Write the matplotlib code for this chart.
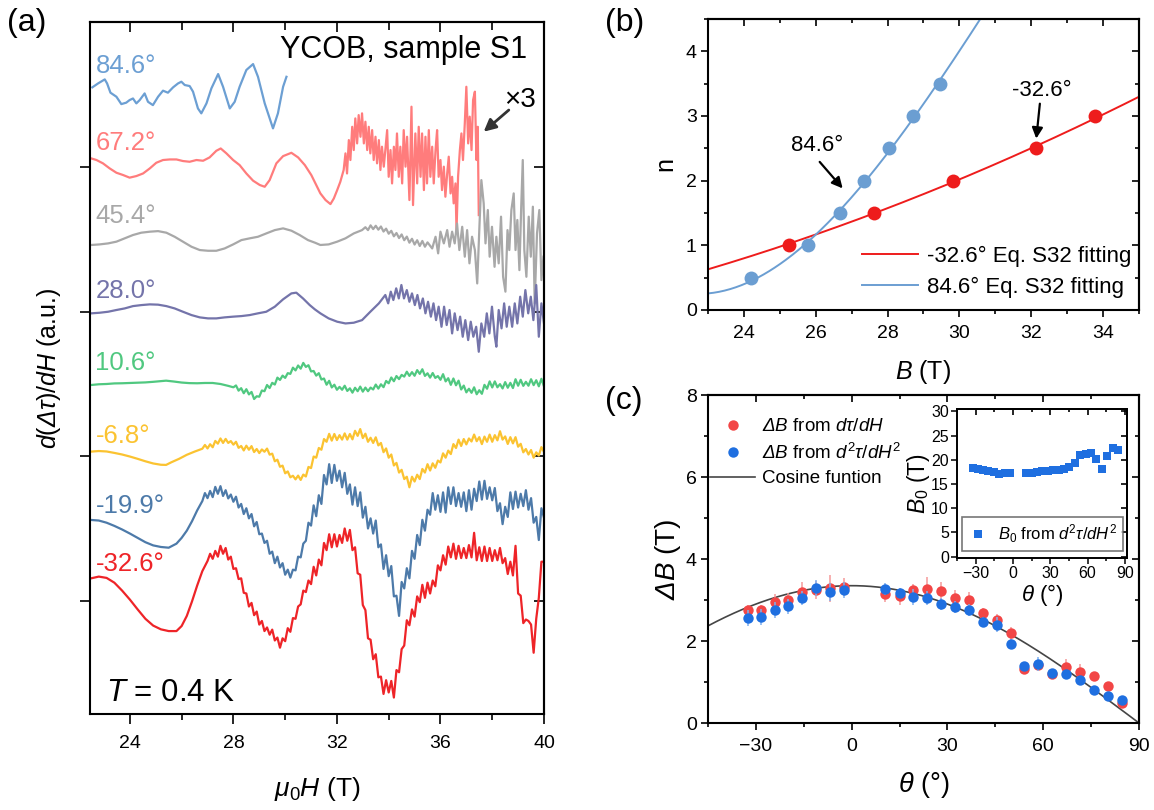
import numpy as np
import matplotlib
matplotlib.use('Agg')
import matplotlib.pyplot as plt
from matplotlib.ticker import MultipleLocator, FixedLocator, NullFormatter
from matplotlib.lines import Line2D

plt.rcParams['font.family'] = 'Liberation Sans'
plt.rcParams['mathtext.fontset'] = 'custom'
plt.rcParams['mathtext.rm'] = 'Liberation Sans'
plt.rcParams['mathtext.it'] = 'Liberation Sans:italic'
plt.rcParams['mathtext.bf'] = 'Liberation Sans:bold'
# sf slot used for the slanted capital Delta
plt.rcParams['mathtext.sf'] = 'Liberation Sans:italic'

# ---------------- (a) d(dtau)/dH traces, offset for clarity ----------------
# each trace: a coarse low-field part plus a 0.1 T sampled noisy part
f_846 = [22.55, 22.77, 23.03, 23.12, 23.25, 23.48, 23.67, 23.86, 23.99, 24.12, 24.25, 24.38, 24.57, 24.70,
         24.89, 25.09, 25.28, 25.47, 25.67, 25.86, 25.99, 26.12, 26.31, 26.44, 26.63, 26.76, 26.96, 27.15,
         27.41, 27.60, 27.86, 28.05, 28.24, 28.50, 28.76, 28.95, 29.21, 29.53, 29.72, 29.92, 30.05]
v_846 = [45.53, 45.80, 46.08, 45.80, 45.16, 44.88, 44.37, 44.47, 44.65, 44.76, 44.42, 44.65, 45.11, 44.53,
         44.30, 44.88, 45.30, 45.16, 45.53, 45.80, 45.92, 45.69, 45.62, 45.23, 44.07, 43.73, 44.42, 45.46,
         46.45, 45.57, 44.07, 44.53, 45.57, 46.73, 47.14, 46.26, 44.42, 42.69, 43.73, 45.57, 46.26]

f_672 = [22.51, 22.71, 22.96, 23.22, 23.48, 23.74, 23.99, 24.25, 24.51, 24.77, 25.02, 25.28, 25.54, 25.80,
         26.05, 26.31, 26.57, 26.83, 27.08, 27.34, 27.51, 27.73, 27.99, 28.24, 28.50, 28.76, 29.02, 29.21,
         29.40, 29.66, 29.92, 30.24, 30.50, 30.76, 31.01, 31.17, 31.36, 31.56, 31.75, 31.88, 32.01, 32.13, 32.26,
         32.33, 32.39, 32.46, 32.52, 32.59, 32.65, 32.71, 32.78, 32.84, 32.91, 32.97, 33.04, 33.10, 33.17,
         33.23, 33.29, 33.36, 33.42, 33.49, 33.55, 33.62, 33.68, 33.74, 33.81, 33.87, 33.94, 34.00, 34.07,
         34.13, 34.20, 34.26, 34.32, 34.39, 34.45, 34.52, 34.58, 34.65, 34.71, 34.80, 34.88, 34.94, 35.03,
         35.10, 35.16, 35.23, 35.29, 35.36, 35.42, 35.48, 35.55, 35.61, 35.68, 35.74, 35.81, 35.87, 35.93,
         36.00, 36.06, 36.13, 36.19, 36.26, 36.32, 36.39, 36.45, 36.51, 36.58, 36.62, 36.68, 36.75, 36.81,
         36.87, 36.94, 37.00, 37.07, 37.13, 37.20, 37.26, 37.33, 37.39, 37.44, 37.48]
v_672 = [40.61, 40.50, 40.27, 39.92, 39.62, 39.46, 39.28, 39.39, 39.57, 39.92, 40.31, 40.50, 40.54, 40.54,
         40.43, 40.38, 40.50, 40.45, 40.68, 41.14, 41.30, 40.96, 40.50, 40.15, 39.57, 39.07, 38.77, 38.65,
         39.11, 40.27, 40.77, 41.00, 40.68, 40.15, 39.46, 38.88, 38.19, 37.73, 37.45, 37.84, 38.42, 38.99, 39.81,
         40.96, 39.57, 41.88, 40.50, 42.80, 41.19, 43.38, 41.65, 43.61, 42.11, 43.73, 41.65, 43.15, 41.19,
         42.80, 40.96, 42.57, 40.50, 42.11, 40.27, 41.88, 39.81, 41.42, 40.04, 41.19, 42.57, 39.34, 41.19,
         38.88, 41.42, 39.81, 42.34, 39.34, 41.42, 38.88, 42.57, 40.04, 42.11, 37.73, 44.19, 37.38, 42.34,
         38.88, 42.80, 39.34, 42.34, 38.42, 42.11, 38.88, 42.57, 39.34, 41.42, 38.88, 41.19, 42.57, 39.34,
         40.50, 38.42, 40.04, 37.96, 39.57, 40.73, 38.19, 39.34, 37.50, 38.88, 35.54, 39.34, 41.19, 42.34,
         40.50, 43.04, 45.57, 41.65, 43.50, 41.19, 44.65, 45.23, 40.50, 42.80, 36.69]

f_454 = [22.51, 22.83, 23.16, 23.48, 23.80, 24.12, 24.44, 24.77, 25.09, 25.41, 25.73, 26.05, 26.38, 26.70,
         27.02, 27.34, 27.66, 27.99, 28.31, 28.63, 28.95, 29.27, 29.60, 29.92, 30.24, 30.56, 30.88, 31.15,
         31.36, 31.68, 32.01, 32.33, 32.65, 32.97]
v_454 = [34.62, 34.66, 34.73, 34.85, 35.08, 35.31, 35.47, 35.54, 35.58, 35.47, 35.19, 34.85, 34.50, 34.27,
         34.22, 34.22, 34.38, 34.66, 34.96, 35.08, 35.19, 35.42, 35.65, 35.77, 35.61, 35.31, 34.96, 34.78,
         34.62, 34.66, 34.85, 35.08, 35.42, 35.65]
n454_start = 33.1
n454 = [35.85, 35.65, 35.98, 35.72, 35.95, 35.68, 35.90, 35.55, 35.75, 35.40, 35.60, 35.22, 35.45, 35.10,
        35.35, 34.95, 35.20, 34.78, 35.05, 34.65, 34.95, 34.55, 34.90, 34.50, 34.80]
g454_f = [35.68, 35.81, 35.91, 36.00, 36.13, 36.26, 36.35, 36.45, 36.55, 36.64, 36.73, 36.84, 36.94, 37.03,
          37.12, 37.22, 37.33, 37.42, 37.51, 37.58, 37.67, 37.74, 37.83, 37.90, 37.99, 38.09, 38.16, 38.25,
          38.34, 38.42, 38.51, 38.59, 38.66, 38.74, 38.83, 38.90, 38.97, 39.05, 39.12, 39.18, 39.24, 39.32,
          39.41, 39.49, 39.57, 39.64, 39.73, 39.82, 39.90, 39.98]
g454_v = [34.38, 35.19, 34.04, 35.54, 34.73, 35.65, 34.50, 35.54, 34.73, 36.11, 34.27, 35.88, 33.81, 35.65,
          33.35, 35.19, 34.27, 31.96, 36.11, 39.11, 37.50, 34.73, 37.04, 33.81, 35.88, 33.11, 35.19, 33.35,
          36.58, 32.42, 31.39, 35.65, 34.27, 37.04, 38.19, 34.27, 36.35, 32.88, 37.27, 40.50, 34.27, 32.42,
          36.58, 33.81, 37.27, 30.58, 35.42, 37.04, 32.19, 33.81]

f_280 = [22.51, 22.83, 23.16, 23.48, 23.80, 24.12, 24.44, 24.77, 25.09, 25.41, 25.73, 26.05, 26.38, 26.70,
         27.02, 27.34, 27.66, 27.99, 28.31, 28.63, 28.95, 29.27, 29.60, 29.92, 30.24, 30.43, 30.69, 30.95,
         31.15, 31.36, 31.68, 32.01, 32.33, 32.65, 32.97, 33.29, 33.62,
         33.87, 33.98, 34.08, 34.18, 34.29, 34.39, 34.49, 34.59, 34.70, 34.80, 34.90, 35.01, 35.11, 35.21,
         35.32, 35.42, 35.52, 35.63, 35.73, 35.83, 35.93, 36.04, 36.14, 36.24, 36.35, 36.45, 36.55, 36.66,
         36.76, 36.86, 36.96, 37.07, 37.17, 37.27, 37.38, 37.48, 37.58, 37.69, 37.79, 37.89, 37.99, 38.10,
         38.16, 38.25, 38.36, 38.46, 38.56, 38.66, 38.77, 38.87, 38.97, 39.08, 39.18, 39.28, 39.39, 39.49,
         39.59, 39.70, 39.80, 39.90, 40.00]
v_280 = [29.89, 29.93, 30.00, 30.12, 30.23, 30.39, 30.46, 30.51, 30.49, 30.39, 30.23, 30.00, 29.77, 29.61,
         29.54, 29.54, 29.61, 29.66, 29.70, 29.77, 29.89, 30.00, 30.35, 30.86, 31.27, 31.32, 30.92, 30.46,
         30.16, 29.89, 29.54, 29.31, 29.19, 29.24, 29.42, 30.00, 30.58,
         31.16, 30.58, 31.39, 30.81, 31.62, 30.92, 31.85, 30.92, 31.50, 30.69, 31.27, 30.46, 31.16, 30.23,
         30.92, 29.89, 30.69, 29.66, 30.58, 29.42, 30.35, 28.96, 30.35, 29.08, 30.12, 28.50, 29.89, 28.73,
         29.66, 28.27, 29.42, 28.04, 29.31, 28.27, 28.96, 27.23, 29.19, 28.27, 29.89, 28.50, 30.35, 28.27,
         27.58, 30.12, 28.85, 30.58, 28.96, 30.35, 28.96, 30.58, 29.19, 31.04, 29.66, 31.50, 29.89, 31.04,
         29.42, 31.85, 28.27, 30.58, 29.19]

f_106 = [22.5, 22.8, 23.1, 23.4, 23.7, 24.0, 24.3, 24.6, 24.9, 25.2, 25.4, 25.7, 26.0, 26.3, 26.6, 26.9,
         27.2, 27.5, 27.8, 28.0]
v_106 = [24.93, 24.98, 25.00, 25.04, 25.05, 25.07, 25.09, 25.11, 25.15, 25.20, 25.23, 25.17, 25.10, 25.06,
         25.05, 25.07, 25.07, 25.00, 24.87, 24.77]
n106_start = 28.1
n106 = [24.90, 24.54, 24.71, 24.36, 24.64, 24.28, 24.45, 23.96, 24.15, 24.12,
        24.55, 24.50, 24.93, 24.72, 25.08, 24.96, 25.44, 25.28, 25.58, 25.42,
        25.75, 25.70, 26.13, 25.94, 26.28, 26.06, 26.46, 26.18, 26.30, 25.87,
        25.90, 25.58, 25.75, 25.31, 25.38, 24.95, 25.22, 24.76, 24.95, 24.60,
        24.80, 24.60, 24.88, 24.52, 24.70, 24.40, 24.74, 24.50, 24.82, 24.47,
        24.75, 24.50, 24.75, 24.62, 24.96, 24.68, 24.98, 24.78, 25.21, 25.05,
        25.45, 25.19, 25.55, 25.34, 25.63, 25.51, 25.85, 25.56, 25.82, 25.57,
        25.96, 25.70, 26.02, 25.56, 25.74, 25.44, 25.76, 25.42, 25.55, 25.29,
        25.68, 25.18, 25.40, 24.94, 25.38, 24.91, 25.23, 24.62, 24.89, 24.42,
        24.67, 24.39, 24.77, 24.29, 24.57, 24.32, 24.94, 24.67, 25.18, 24.76,
        25.18, 24.77, 24.99, 24.69, 25.13, 24.74, 25.08, 24.72, 25.33, 24.88,
        25.29, 24.87, 25.15, 24.88, 25.33, 24.92, 25.26, 24.84, 25.36, 24.83]

f_m68 = [22.5, 22.8, 23.1, 23.4, 23.7, 24.0, 24.3, 24.6, 24.9, 25.2, 25.4, 25.6, 25.9, 26.2, 26.5, 26.8]
v_m68 = [20.32, 20.36, 20.33, 20.23, 20.12, 19.98, 19.82, 19.65, 19.50, 19.41, 19.40, 19.58, 19.82, 20.10,
         20.32, 20.52]
nm68_start = 26.9
nm68 = [20.78, 20.54, 20.83, 20.62, 21.06, 20.87, 21.23, 20.92, 21.20, 20.92,
        21.05, 20.80, 21.00, 20.58, 20.71, 20.40, 20.73, 20.45, 20.70, 20.29,
        20.50, 20.22, 20.47, 20.31, 20.53, 20.11, 20.18, 19.65, 19.76, 19.27,
        19.35, 18.82, 18.95, 18.54, 18.65, 18.40, 18.66, 18.36, 18.73, 18.60,
        19.26, 19.18, 19.98, 19.90, 20.57, 20.45, 21.19, 21.00, 21.55, 21.08,
        21.54, 21.12, 21.46, 21.15, 21.58, 21.15, 21.54, 21.17, 21.76, 21.41,
        21.88, 21.26, 21.56, 21.00, 21.28, 20.92, 21.31, 20.75, 20.92, 20.28,
        20.54, 19.90, 20.12, 19.36, 19.54, 18.87, 19.06, 18.42, 18.58, 17.85,
        18.58, 18.25, 18.72, 18.42, 19.12, 18.87, 19.45, 19.01, 19.51, 19.20,
        19.70, 19.57, 20.20, 19.90, 20.39, 20.15, 20.84, 20.57, 21.15, 20.71,
        21.19, 20.82, 21.23, 21.02, 21.50, 21.04, 21.32, 20.84, 21.36, 21.00,
        21.50, 21.00, 21.46, 21.10, 21.73, 21.15, 21.37, 20.85, 21.32, 20.89,
        21.32, 20.66, 20.86, 20.27, 20.50, 20.12, 20.43, 19.90, 20.27, 20.05,
        20.63, 20.30]

f_m199 = [22.5, 22.8, 23.1, 23.4, 23.7, 24.0, 24.3, 24.6, 24.9, 25.2, 25.5, 25.8, 26.0, 26.2, 26.4, 26.6, 26.8]
v_m199 = [15.59, 15.55, 15.40, 15.18, 14.93, 14.65, 14.35, 14.05, 13.83, 13.72, 13.67, 13.95, 14.35, 14.85,
          15.50, 16.25, 16.90]
nm199_start = 26.9
nm199 = [17.45, 17.10, 17.60, 17.17, 17.88, 17.40, 17.93, 17.25, 17.65, 17.08,
         17.35, 16.85, 17.20, 16.45, 16.70, 16.00, 16.40, 15.70, 16.00, 15.15,
         15.45, 14.60, 14.65, 14.00, 14.15, 13.25, 13.40, 12.60, 13.05, 12.30,
         12.60, 11.80, 12.15, 11.60, 12.15, 12.10, 13.05, 13.00, 13.95, 14.15,
         15.40, 15.20, 16.60, 15.85, 17.30, 16.70, 18.70, 18.05, 19.45, 18.15,
         19.40, 18.30, 19.00, 17.85, 18.85, 17.40, 18.05, 16.65, 17.85, 16.55,
         17.50, 15.75, 16.50, 15.00, 15.70, 14.65, 15.55, 13.70, 13.90, 12.20,
         13.15, 11.70, 12.40, 10.30, 10.35, 8.95, 11.30, 10.85, 12.25, 11.55,
         13.45, 12.90, 14.55, 13.85, 15.60, 14.85, 16.30, 15.95, 17.45, 16.30,
         17.30, 16.15, 17.50, 16.10, 17.85, 16.70, 17.85, 16.55, 17.45, 16.50,
         17.50, 16.20, 17.65, 16.30, 17.75, 16.90, 18.25, 17.00, 18.30, 17.05,
         17.85, 16.95, 17.80, 16.20, 16.75, 15.30, 16.50, 15.80, 17.50, 16.35,
         17.55, 16.45, 17.40, 16.55, 17.65, 16.30, 17.10, 15.40, 15.80, 14.20,
         16.40, 15.75]

f_m326 = [22.5, 22.8, 23.1, 23.4, 23.7, 24.0, 24.3, 24.6, 24.9, 25.2, 25.5, 25.8, 26.0, 26.2, 26.4, 26.6,
          26.8, 27.0]
v_m326 = [11.55, 11.67, 11.58, 11.25, 10.70, 10.08, 9.40, 8.75, 8.28, 8.02, 7.90, 7.90, 8.25, 8.95, 9.95,
          11.05, 12.05, 12.75]
nm326_start = 27.1
nm326 = [13.25, 12.90, 13.45, 13.05, 13.80, 13.25, 13.65, 12.85, 13.05, 12.20,
         12.25, 11.50, 11.55, 10.55, 10.50, 9.60, 9.85, 9.00, 9.25, 8.35,
         8.60, 7.90, 8.15, 7.65, 8.00, 7.25, 7.45, 6.75, 7.40, 7.20,
         8.10, 7.85, 8.80, 8.75, 9.60, 9.75, 10.70, 10.60, 11.40, 11.15,
         12.35, 11.75, 12.85, 12.45, 14.00, 13.50, 14.60, 13.70, 14.60, 13.75,
         14.55, 14.00, 15.00, 14.15, 14.90, 13.50, 13.70, 11.90, 11.80, 9.70,
         9.35, 7.40, 7.30, 5.95, 6.30, 4.70, 4.75, 3.55, 4.50, 3.65,
         4.45, 3.30, 5.20, 5.05, 6.65, 6.90, 8.65, 8.30, 9.40, 8.90,
         10.30, 9.90, 11.10, 10.20, 11.25, 10.50, 11.40, 11.00, 12.45, 12.10,
         13.15, 12.50, 13.75, 13.00, 13.95, 12.90, 13.80, 12.95, 13.65, 12.95,
         13.85, 13.00, 14.70, 12.80, 13.70, 12.75, 13.75, 12.75, 13.65, 12.75,
         13.50, 12.80, 13.65, 12.60, 12.95, 11.85, 12.70, 11.75, 13.80, 10.50,
         10.35, 8.45, 8.70, 8.60, 8.35, 6.40, 8.75, 10.20, 12.70, 12.70]

angle_labels = ['84.6°', '67.2°', '45.4°', '28.0°', '10.6°', '-6.8°', '-19.9°', '-32.6°']
trace_colors = ['#6c9fd3', '#ff7c7c', '#a8a8a8', '#7474aa', '#50c880', '#fbc331', '#4d7aa9', '#ee2428']
label_y = [0.926, 0.815, 0.709, 0.601, 0.497, 0.391, 0.290, 0.206]


def grid(start, vals):
    return np.round(start + 0.1 * np.arange(len(vals)), 2)


traces = [
    (np.array(f_846), np.array(v_846)),
    (np.array(f_672), np.array(v_672)),
    (np.concatenate([f_454, grid(n454_start, n454), g454_f]), np.concatenate([v_454, n454, g454_v])),
    (np.array(f_280), np.array(v_280)),
    (np.concatenate([f_106, grid(n106_start, n106)]), np.concatenate([v_106, n106])),
    (np.concatenate([f_m68, grid(nm68_start, nm68)]), np.concatenate([v_m68, nm68])),
    (np.concatenate([f_m199, grid(nm199_start, nm199)]), np.concatenate([v_m199, nm199])),
    (np.concatenate([f_m326, grid(nm326_start, nm326)]), np.concatenate([v_m326, nm326])),
]

# ---------------- (b) Landau index vs field ----------------
b_blue_B = [24.20, 25.79, 26.67, 27.33, 28.05, 28.71, 29.47]
b_blue_n = [0.5, 1.0, 1.5, 2.0, 2.5, 3.0, 3.5]
b_red_B = [25.25, 27.61, 29.83, 32.14, 33.77]
b_red_n = [1.0, 1.5, 2.0, 2.5, 3.0]
fit_red_B = [23.0, 25.25, 27.61, 29.83, 32.14, 33.77, 35.0]
fit_red_n = [0.64, 1.0, 1.5, 2.0, 2.5, 3.0, 3.28]
fit_blue_B = [23.0, 24.2, 25.79, 26.67, 27.33, 28.05, 28.71, 29.47, 30.03, 30.54]
fit_blue_n = [0.24, 0.5, 1.0, 1.5, 2.0, 2.5, 3.0, 3.5, 4.0, 4.5]

# ---------------- (c) oscillation period vs angle ----------------
theta = [-32.6, -28.3, -24.1, -19.9, -15.5, -11.2, -6.8, -2.4, 10.6, 15.0, 19.3, 23.7, 28.0,
         32.4, 36.7, 41.1, 45.4, 49.8, 54.1, 58.5, 62.9, 67.2, 71.6, 75.9, 80.3, 84.6]
dB_red = [2.75, 2.75, 2.94, 3.00, 3.20, 3.25, 3.29, 3.32, 3.15, 3.09, 3.24, 3.27, 3.21,
          3.05, 2.99, 2.68, 2.52, 2.20, 1.32, 1.42, 1.20, 1.37, 1.24, 1.15, 0.91, 0.50]
err_red = [0.12, 0.12, 0.20, 0.18, 0.25, 0.22, 0.33, 0.22, 0.20, 0.20, 0.15, 0.30, 0.22,
           0.20, 0.20, 0.12, 0.15, 0.15, 0.05, 0.10, 0.05, 0.20, 0.20, 0.08, 0.05, 0.05]
dB_blue = [2.56, 2.59, 2.75, 2.85, 3.05, 3.29, 3.19, 3.24, 3.27, 3.17, 3.07, 3.05, 2.91,
           2.83, 2.76, 2.46, 2.40, 1.93, 1.38, 1.44, 1.22, 1.20, 1.04, 0.81, 0.65, 0.55]
err_blue = [0.20, 0.20, 0.20, 0.18, 0.17, 0.20, 0.22, 0.20, 0.15, 0.13, 0.20, 0.18, 0.15,
            0.15, 0.15, 0.12, 0.18, 0.12, 0.08, 0.17, 0.08, 0.10, 0.10, 0.05, 0.05, 0.05]
cos_amp = 3.35
B0 = [18.4, 18.1, 17.8, 17.6, 17.4, 17.0, 17.2, 17.2, 17.2, 17.3, 17.5, 17.6, 17.7,
      17.8, 17.9, 18.1, 18.6, 19.4, 20.9, 21.2, 21.5, 20.2, 18.1, 20.7, 22.5, 22.0]


def mirror(ax, xloc, xminloc, yloc, yminloc, lmaj, lmin, lw=1.5):
    """Top and right ticks pointing inward, without labels."""
    top = ax.secondary_xaxis('top')
    top.xaxis.set_major_locator(xloc)
    if xminloc is not None:
        top.xaxis.set_minor_locator(xminloc)
    top.tick_params(which='both', direction='in', labeltop=False, width=1.2)
    top.tick_params(which='major', length=lmaj)
    top.tick_params(which='minor', length=lmin)
    top.spines['top'].set_linewidth(lw)
    right = ax.secondary_yaxis('right')
    right.yaxis.set_major_locator(yloc)
    if yminloc is not None:
        right.yaxis.set_minor_locator(yminloc)
    right.tick_params(which='both', direction='in', labelright=False, width=1.2)
    right.tick_params(which='major', length=lmaj)
    right.tick_params(which='minor', length=lmin)
    right.spines['right'].set_linewidth(lw)


fig = plt.figure(figsize=(11.54, 8.10), dpi=100)

# ---- panel (a) ----
ax = fig.add_axes([0.078, 0.1185, 0.3934, 0.8543])
for (fld, sig), col in zip(traces, trace_colors):
    ax.plot(fld, sig, color=col, lw=1.6, solid_joinstyle='round')
for lab, col, yy in zip(angle_labels, trace_colors, label_y):
    ax.text(0.012, yy, lab, color=col, fontsize=18.5, transform=ax.transAxes, va='baseline', ha='left')
ax.set_xlim(22.46, 40)
ax.set_ylim(2.16, 50.05)
ax.xaxis.set_major_locator(MultipleLocator(4))
ax.xaxis.set_minor_locator(FixedLocator([26, 30, 34, 38]))
ax.set_yticks([10, 20, 30, 40])
ax.yaxis.set_major_formatter(NullFormatter())
ax.tick_params(which='both', direction='out', width=1.2, labelsize=14)
ax.tick_params(which='major', length=7)
ax.tick_params(which='minor', length=4)
ax.tick_params(axis='x', pad=8)
for s in ax.spines.values():
    s.set_linewidth(1.5)
mirror(ax, MultipleLocator(4), FixedLocator([26, 30, 34, 38]), FixedLocator([10, 20, 30, 40]), None, 7, 6)
ax.set_xlabel(r'$\mu_0H$ (T)', fontsize=19)
ax.xaxis.set_label_coords(0.5, -0.088)
ax.set_ylabel(r'$d(\mathsf{\Delta}\tau)/dH$ (a.u.)', fontsize=18)
ax.yaxis.set_label_coords(-0.06, 0.5)
ax.text(0.963, 0.959, 'YCOB, sample S1', transform=ax.transAxes, ha='right', va='center', fontsize=22)
ax.text(0.036, 0.019, r'$T$ = 0.4 K', transform=ax.transAxes, ha='left', va='baseline', fontsize=22.5)
ax.text(39.07, 44.65, '×3', ha='center', va='center', fontsize=20)
ax.annotate('', xy=(37.67, 42.46), xytext=(38.64, 43.96),
            arrowprops=dict(arrowstyle='-|>', color='#333333', lw=2, mutation_scale=18, shrinkA=0, shrinkB=0))

# ---- panel (b) ----
bx = fig.add_axes([0.6135, 0.6173, 0.3735, 0.3593])
cr = np.polyfit(fit_red_B, fit_red_n, 2)
cb = np.polyfit(fit_blue_B, fit_blue_n, 3)
br = np.linspace(23, 35, 200)
bb = np.linspace(23, 30.7, 200)
l_red, = bx.plot(br, np.polyval(cr, br), color='#ee1c1c', lw=1.4)
l_blue, = bx.plot(bb, np.polyval(cb, bb), color='#6b9ed2', lw=1.4)
bx.plot(b_blue_B, b_blue_n, 'o', color='#6b9ed2', ms=10, mew=0)
bx.plot(b_red_B, b_red_n, 'o', color='#ee1c1c', ms=10, mew=0)
bx.set_xlim(23, 35)
bx.set_ylim(0, 4.5)
bx.xaxis.set_major_locator(MultipleLocator(2))
bx.xaxis.set_minor_locator(MultipleLocator(1))
bx.yaxis.set_major_locator(MultipleLocator(1))
bx.yaxis.set_minor_locator(MultipleLocator(0.5))
bx.tick_params(which='both', direction='out', width=1.2, labelsize=14)
bx.tick_params(which='major', length=5)
bx.tick_params(which='minor', length=3)
bx.tick_params(axis='x', pad=6)
bx.tick_params(axis='y', pad=3)
for s in bx.spines.values():
    s.set_linewidth(1.5)
mirror(bx, MultipleLocator(2), MultipleLocator(1), MultipleLocator(1), MultipleLocator(0.5), 5, 3)
bx.set_xlabel(r'$B$ (T)', fontsize=18)
bx.xaxis.set_label_coords(0.5, -0.165)
bx.set_ylabel('n', fontsize=18)
bx.yaxis.set_label_coords(-0.072, 0.5)
bx.legend([l_red, l_blue], ['-32.6° Eq. S32 fitting', '84.6° Eq. S32 fitting'], loc='lower right',
          frameon=False, fontsize=16, handlelength=2.5, handletextpad=0.4, labelspacing=0.45,
          borderaxespad=0.15, bbox_to_anchor=(1.01, 0.0))
bx.text(26.03, 2.55, '84.6°', ha='center', va='center', fontsize=16)
bx.annotate('', xy=(26.75, 1.88), xytext=(26.11, 2.29),
            arrowprops=dict(arrowstyle='-|>', color='k', lw=1.6, mutation_scale=16, shrinkA=0, shrinkB=0))
bx.text(32.30, 3.40, '-32.6°', ha='center', va='center', fontsize=16)
bx.annotate('', xy=(32.14, 2.65), xytext=(32.24, 3.19),
            arrowprops=dict(arrowstyle='-|>', color='k', lw=1.6, mutation_scale=16, shrinkA=0, shrinkB=0))

# ---- panel (c) ----
cx = fig.add_axes([0.6135, 0.1074, 0.3735, 0.4049])
th = np.linspace(-45, 90, 300)
cx.plot(th, cos_amp * np.cos(np.radians(th)), color='#454545', lw=1.2, zorder=1)
cx.errorbar(theta, dB_red, yerr=err_red, fmt='o', ms=7.5, color='#f24646', mew=0,
            ecolor='#f59a9a', elinewidth=1.1, capsize=3, capthick=1.1, zorder=2)
cx.errorbar(theta, dB_blue, yerr=err_blue, fmt='o', ms=7.5, color='#1f6fe0', mew=0,
            ecolor='#7fb0f0', elinewidth=1.1, capsize=3, capthick=1.1, zorder=3)
cx.set_xlim(-45, 90)
cx.set_ylim(0, 8)
cx.xaxis.set_major_locator(MultipleLocator(30))
cx.xaxis.set_minor_locator(MultipleLocator(15))
cx.yaxis.set_major_locator(MultipleLocator(2))
cx.yaxis.set_minor_locator(MultipleLocator(1))
cx.tick_params(which='both', direction='out', width=1.2, labelsize=14)
cx.tick_params(which='major', length=5)
cx.tick_params(which='minor', length=3)
cx.tick_params(axis='x', pad=6)
cx.tick_params(axis='y', pad=3)
for s in cx.spines.values():
    s.set_linewidth(1.5)
mirror(cx, MultipleLocator(30), MultipleLocator(15), MultipleLocator(2), MultipleLocator(1), 5, 3)
cx.set_xlabel(r'$\theta$ (°)', fontsize=19.5)
cx.xaxis.set_label_coords(0.5, -0.143)
cx.set_ylabel(r'$\mathsf{\Delta}B$ (T)', fontsize=20)
cx.yaxis.set_label_coords(-0.058, 0.5)
h_red = Line2D([], [], ls='none', marker='o', ms=7.5, color='#f24646', mew=0)
h_blue = Line2D([], [], ls='none', marker='o', ms=7.5, color='#1f6fe0', mew=0)
h_cos = Line2D([], [], color='#454545', lw=1.2)
cx.legend([h_red, h_blue, h_cos],
          [r'$\mathsf{\Delta}B$ from $d\tau/dH$', r'$\mathsf{\Delta}B$ from $d^2\tau/dH^2$', 'Cosine funtion'],
          loc='upper left', frameon=False, fontsize=13.5, handlelength=2.4, handletextpad=0.35,
          labelspacing=0.4, borderaxespad=0.3, bbox_to_anchor=(-0.025, 0.97))

# ---- inset: B0 ----
ix = fig.add_axes([0.8295, 0.3115, 0.1473, 0.1836])
ix.plot(theta, B0, 's', color='#1f6fe0', ms=6, mew=0, label=r'$B_0$ from $d^2\tau/dH^2$')
ix.set_xlim(-45, 92)
ix.set_ylim(-0.2, 30.5)
ix.xaxis.set_major_locator(MultipleLocator(30))
ix.xaxis.set_minor_locator(MultipleLocator(15))
ix.yaxis.set_major_locator(MultipleLocator(5))
ix.tick_params(which='both', direction='out', width=1.1, labelsize=11.5, pad=2)
ix.tick_params(which='major', length=4)
ix.tick_params(which='minor', length=2.5)
for s in ix.spines.values():
    s.set_linewidth(1.4)
mirror(ix, MultipleLocator(30), MultipleLocator(15), MultipleLocator(5), None, 4, 2.5, lw=1.4)
ix.set_xlabel(r'$\theta$ (°)', fontsize=16, labelpad=1)
ix.set_ylabel(r'$B_0$ (T)', fontsize=16.5)
ix.yaxis.set_label_coords(-0.15, 0.5)
leg = ix.legend(loc='lower center', fontsize=12, frameon=True, fancybox=False, edgecolor='#555555',
                handletextpad=0.6, borderaxespad=0.4, borderpad=0.35, handlelength=1.2)
leg.get_frame().set_linewidth(1.2)

fig.text(0.006, 0.99, '(a)', fontsize=23, va='top', ha='left')
fig.text(0.524, 0.99, '(b)', fontsize=23, va='top', ha='left')
fig.text(0.524, 0.523, '(c)', fontsize=23, va='top', ha='left')

fig.savefig('out.png', dpi=100)
